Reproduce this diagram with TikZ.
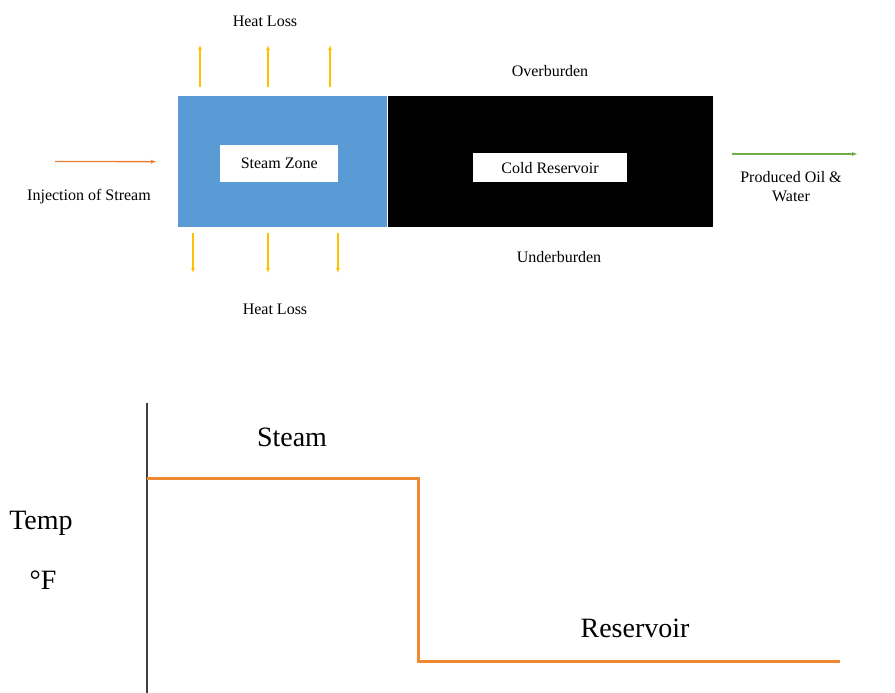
\documentclass[tikz,border=0pt]{standalone}
\usepackage{fontspec}
\setmainfont{Liberation Serif}
\newfontfamily\timesfont{Liberation Serif}
\usetikzlibrary{positioning}
\usetikzlibrary{arrows.meta}

\definecolor{steamblue}{HTML}{5B9BD5}
\definecolor{injorange}{HTML}{ED7D31}
\definecolor{heatyellow}{HTML}{FFC000}
\definecolor{prodgreen}{HTML}{70AD47}
\definecolor{curveorange}{HTML}{F08A32}

\begin{document}
\begin{tikzpicture}
    [x=1pt, y=-1pt, every node/.style={font=\timesfont\fontsize{16}{19}\selectfont},
    heat/.style={-{Latex[length=5pt, width=4pt]}, draw=heatyellow, line width=1.2pt},
    flow/.style={-{Latex[length=6pt, width=4pt]}, line width=1.3pt},
    tag/.style={fill=white, inner sep=0pt},
    big/.style={font=\timesfont\fontsize{28}{32}\selectfont},
    curve/.style={draw=curveorange, line width=3pt}]

    \useasboundingbox (0,0) rectangle (895,693);

    % Draw the zones
    \node (steam) [fill=steamblue, inner sep=0pt, minimum width=209pt, minimum height=131pt,
        anchor=north west] at (178,96) {};
    \node (cold) [fill=black, inner sep=0pt, minimum width=325pt, minimum height=131pt,
        right=0pt of steam] {};
    \node (steamtag) [tag, minimum width=118pt, minimum height=37pt]
        at ([xshift=-3.5pt, yshift=-1.5pt]steam.center) {Steam Zone};
    \node (coldtag) [tag, minimum width=154pt, minimum height=29pt]
        at ([yshift=-6pt]cold.center) {Cold Reservoir};

    \node (over) at (550,71) {Overburden};
    \node (under) at (559,257) {Underburden};
    \node (lossup) at (265,21) {Heat Loss};
    \node (lossdown) at (275,309) {Heat Loss};

    % Heat loss arrows
    \foreach \hx [count=\i] in {200,268,330} {
        \coordinate (up\i a) at (\hx,87);
        \coordinate (up\i b) at (\hx,45);
        \draw[heat] (up\i a) -- (up\i b);
    }
    \foreach \hx [count=\i] in {193,268,338} {
        \coordinate (dn\i a) at (\hx,233);
        \coordinate (dn\i b) at (\hx,273);
        \draw[heat] (dn\i a) -- (dn\i b);
    }

    % Injection and production
    \coordinate (inj) at (55,161.5);
    \draw[flow, draw=injorange, shorten >=21pt] (inj) -- (steam.west);
    \node (injtext) at (89,197) {Injection of Stream};

    \coordinate (prodstart) at (732,154);
    \coordinate (prodend) at (858,154);
    \draw[flow, draw=prodgreen] (prodstart) -- (prodend);
    \node (prodtext) [align=center] at (791,187) {Produced Oil \&\\Water};

    % Draw the temperature profile
    \coordinate (axbot) at (147,693);
    \coordinate (axtop) at (147,403);
    \draw[line width=1.3pt, draw=black!75] (axbot) -- (axtop);

    \coordinate (s0) at (147,478);
    \coordinate (s1) at (418,478);
    \coordinate (r0) at (418,661);
    \coordinate (r1) at (840,661);
    \draw[curve] (s0) -- (s1) -- (r0) -- (r1);

    \node (steamlabel) [big] at (292,437) {Steam};
    \node (templabel) [big] at (41,523) {Temp};
    \node (unitlabel) [big] at (43,580) {°F};
    \node (reslabel) [big] at (635,628) {Reservoir};

\end{tikzpicture}
\end{document}
